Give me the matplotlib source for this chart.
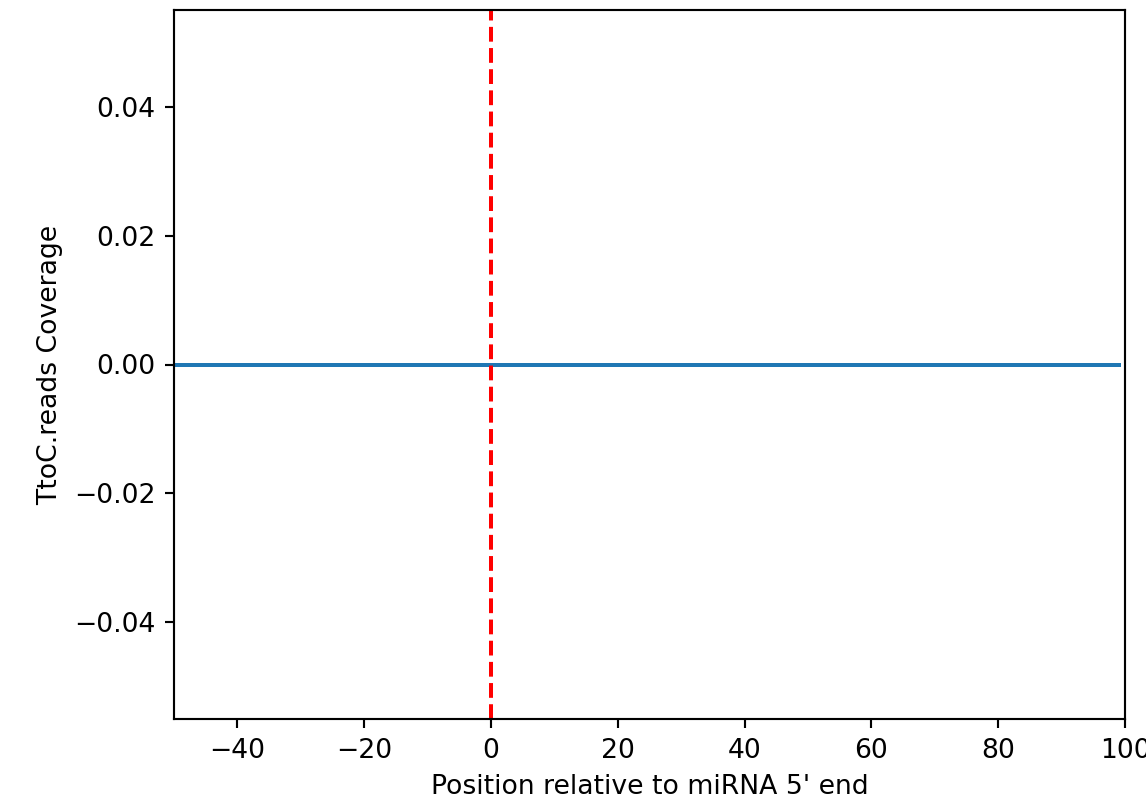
import matplotlib
matplotlib.use("Agg")
import matplotlib.pyplot as plt

# Data: coverage is zero at every position
positions = list(range(-50, 100))
coverage = [0.0] * len(positions)
marker_position = 0

DPI = 191.7
fig = plt.figure(figsize=(1146 / DPI, 800 / DPI), dpi=DPI)
ax = fig.add_axes([174 / 1146, 81 / 800, 951 / 1146, 709 / 800])

ax.plot(positions, coverage, color="#1f77b4", linewidth=1.5)
ax.axvline(marker_position, color="red", linestyle="--", linewidth=1.5)

ax.set_xlim(-50, 100)
ax.set_ylim(-0.055, 0.055)
ax.set_xlabel("Position relative to miRNA 5' end")
ax.set_ylabel("TtoC.reads Coverage")

fig.savefig("out.png", dpi=DPI)
